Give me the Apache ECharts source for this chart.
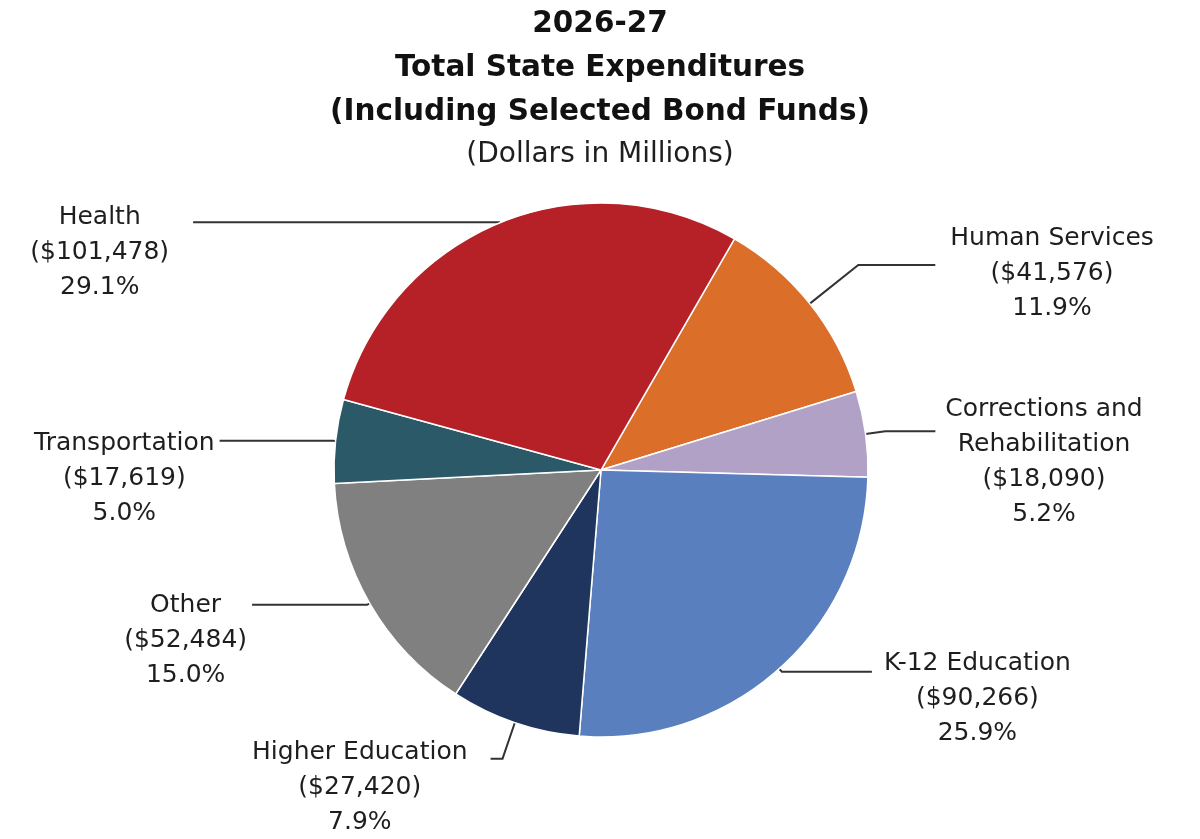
<!DOCTYPE html>
<html>
<head>
<meta charset="utf-8">
<script src="https://cdn.jsdelivr.net/npm/echarts@6/dist/echarts.min.js"></script>
<style>html,body{margin:0;padding:0;background:#fff}#c{width:1200px;height:839px}</style>
</head>
<body>
<div id="c"></div>
<script>
const categories = ['Human Services', 'Corrections and\nRehabilitation', 'K-12 Education', 'Higher Education', 'Other', 'Transportation', 'Health'];
const values = [41576, 18090, 90266, 27420, 52484, 17619, 101478];
const colors = ['#DB6E29', '#B2A1C7', '#5A7FBE', '#1F355E', '#808080', '#2B5968', '#B52127'];
// leader line lengths and label tweaks per slice
const lineLen = [62, 20, 4, 38, 3, 3, 1];
const lineLen2 = [77, 50, 90, 12, 115, 113, 306];
const padTop = [18, 61, 54, 58, 72, 76, 60];
const gap = [15, 10, 12, 23, 5, 5, 24];

const FONT = 'DejaVu Sans';
const chart = echarts.init(document.getElementById('c'), null, {renderer: 'canvas'});

const data = categories.map((name, i) => ({
  name: name,
  value: values[i],
  itemStyle: {color: colors[i]},
  labelLine: {length: lineLen[i], length2: lineLen2[i]},
  label: {padding: [padTop[i], 0, 0, 0], distanceToLabelLine: gap[i]}
}));

chart.setOption({
  animation: false,
  title: {
    text: '2026-27\nTotal State Expenditures\n(Including Selected Bond Funds)',
    subtext: '(Dollars in Millions)',
    left: 'center',
    top: -3,
    itemGap: 4,
    textStyle: {fontFamily: FONT, fontWeight: 'bold', fontSize: 29.5, lineHeight: 44, color: '#111'},
    subtextStyle: {fontFamily: FONT, fontSize: 28, lineHeight: 34, color: '#1e1e1e'}
  },
  series: [{
    type: 'pie',
    center: [601, 470],
    radius: 267,
    startAngle: 60,
    clockwise: true,
    avoidLabelOverlap: false,
    labelLayout: {hideOverlap: false},
    itemStyle: {borderColor: '#fff', borderWidth: 1.5},
    label: {
      show: true,
      position: 'outside',
      fontFamily: FONT,
      fontSize: 25,
      lineHeight: 35,
      color: '#1e1e1e',
      formatter: function (p) {
        const lines = p.name.split('\n');
        lines.push('($' + p.value.toLocaleString('en-US') + ')');
        lines.push(p.percent.toFixed(1) + '%');
        return lines.map(s => '{a|' + s + '}').join('\n');
      },
      rich: {a: {align: 'center', fontFamily: FONT, fontSize: 25, lineHeight: 35, color: '#1e1e1e'}}
    },
    labelLine: {show: true, smooth: false, lineStyle: {color: '#333', width: 2}},
    emphasis: {disabled: true},
    data: data
  }]
});
</script>
</body>
</html>
